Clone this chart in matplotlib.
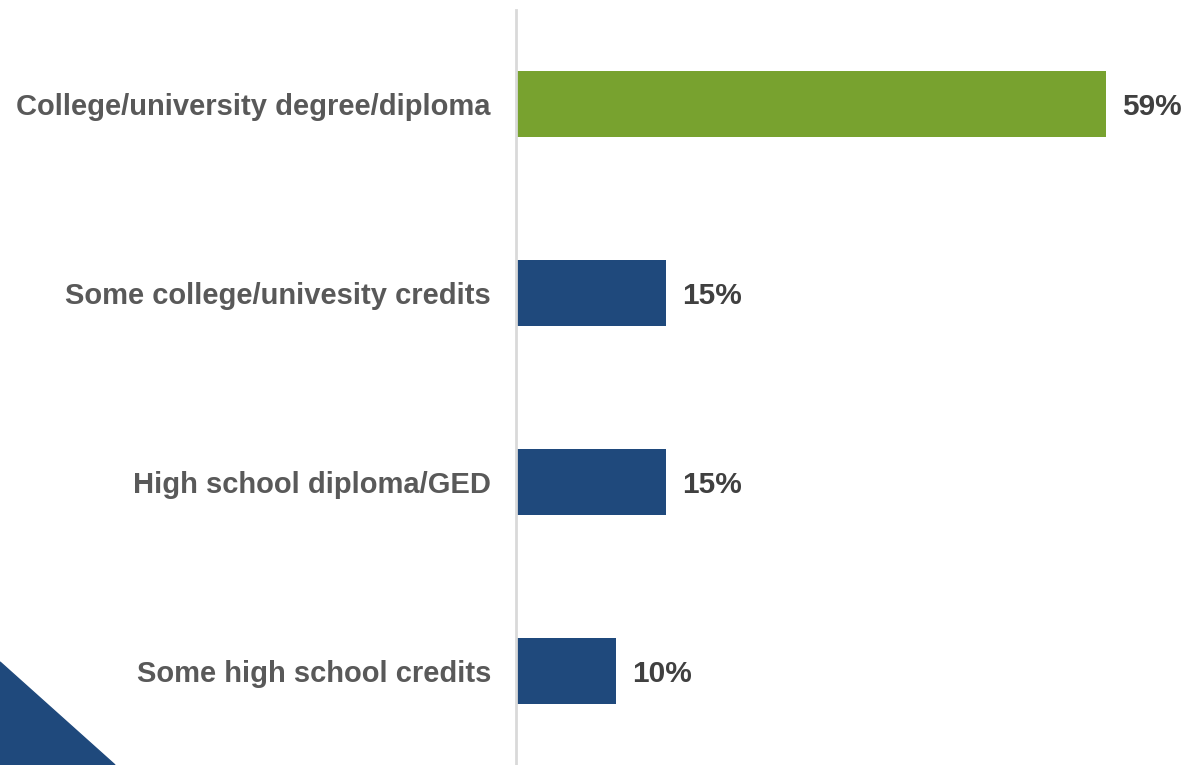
import matplotlib
matplotlib.use("Agg")
import matplotlib.pyplot as plt
from matplotlib.patches import Polygon

categories = ["College/university degree/diploma", "Some college/univesity credits",
              "High school diploma/GED", "Some high school credits"]
values = [59, 15, 15, 10]
colors = ["#78A22F", "#1F497C", "#1F497C", "#1F497C"]

plt.rcParams["font.family"] = ["Liberation Sans", "DejaVu Sans"]

fig = plt.figure(figsize=(11.87, 7.65), dpi=100)
ax = fig.add_axes([516 / 1187, 0, 671 / 1187, 755 / 765])

ypos = list(range(len(categories)))
ax.barh(ypos, values, height=0.35, color=colors)
ax.set_xlim(0, 67.1)
ax.set_ylim(3.5, -0.5)

for y, v in zip(ypos, values):
    ax.text(v + 1.6, y, f"{v}%", va="center_baseline", ha="left", fontsize=21.5,
            fontweight="bold", color="#404040")

ax.set_yticks(ypos)
ax.set_yticklabels(categories, fontsize=21, fontweight="bold", color="#595959",
                   va="center_baseline")
ax.tick_params(axis="y", length=0, pad=18)
ax.set_xticks([])
for s in ["top", "right", "bottom"]:
    ax.spines[s].set_visible(False)
ax.spines["left"].set_color("#D9D9D9")
ax.spines["left"].set_linewidth(2)

# corner triangle
tri = Polygon([(0, 0), (0, 103 / 765), (115 / 1187, 0)], closed=True,
              transform=fig.transFigure, color="#1F497C", zorder=0)
fig.patches.append(tri)

fig.savefig("out.png", dpi=100)
